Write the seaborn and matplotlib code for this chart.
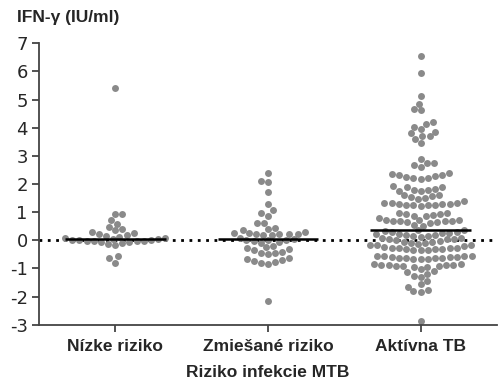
import numpy as np
import pandas as pd
import matplotlib
matplotlib.use("Agg")
import matplotlib.pyplot as plt
import seaborn as sns

# IFN-gamma values (IU/ml), one list per group
categories = ["Nízke riziko", "Zmiešané riziko", "Aktívna TB"]

nizke = [5.41, 0.94, 0.93, 0.73, 0.59, 0.47, 0.40, 0.35,
         0.28, 0.25, 0.22, 0.19, 0.16, 0.13, 0.10, 0.07, 0.05,
         0.03, 0.02, 0.01, 0.00, -0.01, -0.02, -0.03, -0.04, -0.05,
         -0.07, -0.10, -0.14, -0.18, -0.57, -0.64, -0.79]

zmiesane = [2.40, 2.12, 2.06, 1.72, 1.29, 1.06, 0.97, 0.88, 0.63, 0.61,
            0.43, 0.40, 0.37, 0.31,
            0.26, 0.25, 0.24, 0.23, 0.22, 0.21, 0.20, 0.19,
            0.10, 0.04, 0.02, 0.00, 0.00, -0.02, -0.05, -0.08,
            -0.20, -0.24, -0.27, -0.32, -0.36, -0.40, -0.44, -0.46, -0.48,
            -0.63, -0.66, -0.69, -0.72, -0.76, -0.80, -0.83, -2.17]

aktivna = [6.55, 5.93, 5.14, 4.85, 4.66, 4.61, 4.21, 4.14, 4.04, 3.96,
           3.86, 3.80, 3.71, 3.69, 3.59, 3.45,
           2.88, 2.76, 2.74, 2.69, 2.62,
           2.38, 2.36, 2.33, 2.31, 2.28, 2.26, 2.22, 2.20, 2.18,
           1.93, 1.90, 1.88, 1.84, 1.80, 1.78, 1.76, 1.74,
           1.62, 1.60, 1.58, 1.55, 1.50, 1.45, 1.40,
           1.33, 1.32, 1.31, 1.30, 1.29, 1.28, 1.27, 1.26, 1.25, 1.24, 1.22,
           0.98, 0.96, 0.94, 0.92, 0.90, 0.88, 0.85, 0.80,
           0.73, 0.72, 0.71, 0.70, 0.69, 0.68, 0.67, 0.66, 0.64,
           0.60, 0.56, 0.52,
           0.36, 0.33, 0.30, 0.27, 0.24, 0.21, 0.18, 0.15, 0.12, 0.09,
           0.06, 0.03, 0.00, -0.03, -0.06, -0.09, -0.12, -0.15, -0.18, -0.21,
           0.35, 0.30, 0.25, 0.20, 0.15, 0.10, 0.05, -0.05, -0.10, -0.15,
           -0.25, -0.26, -0.27, -0.28, -0.29, -0.30, -0.31, -0.32, -0.33, -0.34,
           -0.35,
           -0.54, -0.55, -0.56, -0.57, -0.58, -0.59, -0.60, -0.61, -0.62, -0.63,
           -0.64, -0.65, -0.66, -0.67,
           -0.84, -0.85, -0.86, -0.87, -0.88, -0.89, -0.90, -0.91, -0.92, -0.93,
           -0.94,
           -1.02, -1.08, -1.12, -1.20, -1.25, -1.30,
           -1.46, -1.55, -1.64, -1.76, -1.80, -1.84,
           -2.85]

df = pd.DataFrame({
    "skupina": [categories[0]] * len(nizke) + [categories[1]] * len(zmiesane)
               + [categories[2]] * len(aktivna),
    "ifn": nizke + zmiesane + aktivna,
})

sns.set_style("ticks")
plt.rcParams["font.family"] = ["Liberation Sans", "DejaVu Sans"]

fig = plt.figure(figsize=(4.98, 3.89), dpi=100)
ax = fig.add_axes([0.078, 0.165, 0.92, 0.724])

ax.axhline(0, color="black", linestyle=(0, (1, 2)), linewidth=2, zorder=1)

sns.swarmplot(data=df, x="skupina", y="ifn", order=categories, color="#8a8a8a",
              size=5, linewidth=0, ax=ax, zorder=2)

# median line per group
for i, vals in enumerate([nizke, zmiesane, aktivna]):
    ax.hlines(np.median(vals), i - 0.33, i + 0.33, color="black", linewidth=1.8, zorder=3)

bold = dict(family="Liberation Sans", weight="bold", size=12.5)

ax.set_xlim(-0.5, 2.5)
ax.set_ylim(-3, 7)
ax.set_yticks(range(-3, 8))
ax.set_yticklabels([str(v) for v in range(-3, 8)], fontsize=13, family="DejaVu Sans")
ax.set_xticks(range(3))
ax.set_xticklabels(categories, fontdict=bold)
ax.tick_params(axis="both", length=5, width=1.3, color="#444444")
ax.tick_params(axis="x", pad=5)
ax.tick_params(axis="y", pad=3)

sns.despine(ax=ax)
for side in ["left", "bottom"]:
    ax.spines[side].set_color("#444444")
    ax.spines[side].set_linewidth(1.3)

ax.set_xlabel("Riziko infekcie MTB", fontdict=bold, labelpad=8)
ax.set_ylabel("")
fig.text(0.034, 0.955, "IFN-γ (IU/ml)", fontdict=bold, va="center")

fig.savefig("out.png", dpi=100)
